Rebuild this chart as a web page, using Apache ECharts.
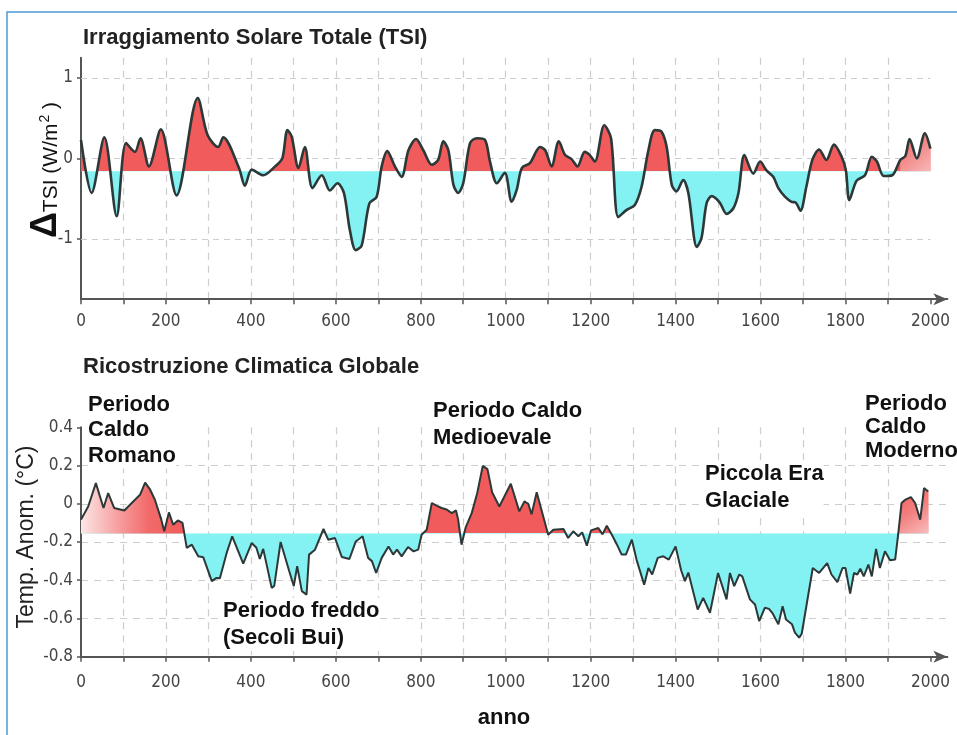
<!DOCTYPE html>
<html>
<head>
<meta charset="utf-8">
<script src="https://cdn.jsdelivr.net/npm/echarts@6/dist/echarts.min.js"></script>
<style>
  html, body { margin: 0; padding: 0; background: #ffffff; }
  #chart { width: 957px; height: 735px; }
</style>
</head>
<body>
<div id="chart"></div>
<script>
// Total solar irradiance anomaly, W/m^2
const tsiYears = [0, 25, 55, 84, 106, 127, 140, 160, 188, 225, 275, 298, 323, 335, 372, 386, 402, 429, 457, 474,
  486, 496, 512, 527, 545, 567, 586, 604, 619, 633, 647, 661, 679, 696, 708, 721, 739, 755, 771, 789,
  806, 826, 841, 853, 865, 877, 888, 900, 916, 932, 951, 963, 979, 998, 1014, 1026, 1038, 1057, 1081, 1093,
  1108, 1125, 1140, 1155, 1169, 1186, 1198, 1210, 1232, 1248, 1265, 1285, 1304, 1320, 1336, 1351, 1367, 1379, 1391, 1402,
  1418, 1430, 1450, 1461, 1473, 1485, 1504, 1520, 1536, 1548, 1562, 1583, 1599, 1614, 1630, 1642, 1658, 1673, 1683, 1694,
  1708, 1722, 1738, 1755, 1773, 1791, 1801, 1809, 1826, 1846, 1862, 1874, 1890, 1910, 1929, 1941, 1951, 1968, 1987, 2000];
const tsiValues = [0.23, -0.43, 0.26, -0.72, 0.19, 0.08, 0.25, -0.10, 0.36, -0.46, 0.75, 0.29, 0.14, 0.26, -0.12, -0.34, -0.14, -0.21, -0.10, 0.00,
  0.35, 0.27, -0.12, 0.14, -0.37, -0.21, -0.40, -0.31, -0.43, -0.89, -1.14, -1.08, -0.56, -0.48, -0.10, 0.09, -0.10, -0.23, 0.10, 0.24,
  0.10, -0.08, -0.02, 0.21, 0.10, -0.33, -0.43, -0.31, 0.19, 0.25, 0.23, -0.04, -0.31, -0.18, -0.54, -0.39, -0.12, -0.06, 0.14, 0.10,
  -0.10, 0.21, 0.04, -0.01, -0.10, 0.08, 0.04, -0.04, 0.41, 0.25, -0.73, -0.64, -0.58, -0.35, 0.10, 0.35, 0.33, 0.14, -0.33, -0.41,
  -0.27, -0.43, -1.10, -0.99, -0.56, -0.47, -0.55, -0.69, -0.62, -0.43, 0.04, -0.19, -0.04, -0.15, -0.23, -0.37, -0.48, -0.54, -0.55, -0.65,
  -0.35, -0.02, 0.11, -0.02, 0.17, 0.02, -0.15, -0.52, -0.28, -0.21, 0.02, -0.04, -0.22, -0.21, -0.02, 0.03, 0.24, 0.00, 0.31, 0.12];

// Global climate reconstruction, temperature anomaly in °C
const tempYears = [0, 17, 35, 53, 64, 78, 102, 123, 139, 151, 162, 174, 188, 196, 207, 217, 228, 239, 249, 261,
  276, 288, 308, 319, 327, 343, 356, 382, 402, 413, 421, 429, 449, 455, 470, 490, 501, 509, 520, 531,
  537, 551, 571, 582, 598, 614, 632, 647, 663, 676, 685, 695, 708, 724, 735, 744, 755, 770, 783, 794,
  802, 814, 826, 837, 849, 861, 873, 883, 888, 896, 906, 920, 933, 946, 957, 968, 985, 1012, 1032, 1044,
  1053, 1061, 1073, 1100, 1112, 1136, 1147, 1159, 1171, 1180, 1191, 1201, 1218, 1228, 1238, 1250, 1262, 1273, 1283, 1297,
  1308, 1326, 1336, 1345, 1358, 1371, 1384, 1400, 1413, 1422, 1430, 1452, 1465, 1481, 1500, 1520, 1528, 1538, 1550, 1557,
  1575, 1587, 1597, 1610, 1620, 1629, 1642, 1652, 1660, 1674, 1681, 1691, 1697, 1723, 1738, 1757, 1767, 1781, 1793, 1800,
  1811, 1820, 1828, 1835, 1843, 1854, 1862, 1872, 1881, 1893, 1905, 1917, 1924, 1932, 1940, 1954, 1964, 1976, 1985, 1995];
const tempValues = [-0.083, -0.014, 0.108, -0.022, 0.056, -0.022, -0.035, 0.012, 0.047, 0.111, 0.077, 0.021, -0.075, -0.144, -0.045, -0.11, -0.087, -0.10, -0.231, -0.214,
  -0.275, -0.28, -0.405, -0.388, -0.39, -0.257, -0.17, -0.313, -0.205, -0.23, -0.289, -0.236, -0.44, -0.43, -0.20, -0.35, -0.43, -0.327, -0.457, -0.475,
  -0.266, -0.24, -0.132, -0.188, -0.179, -0.278, -0.289, -0.197, -0.17, -0.283, -0.30, -0.362, -0.283, -0.223, -0.266, -0.24, -0.275, -0.226, -0.249, -0.24,
  -0.162, -0.136, 0.004, -0.01, -0.022, -0.03, -0.049, -0.035, -0.083, -0.214, -0.122, -0.049, 0.056, 0.198, 0.181, 0.06, -0.014, 0.105, -0.04, 0.012,
  0.0, -0.055, 0.06, -0.162, -0.136, -0.132, -0.179, -0.144, -0.17, -0.15, -0.219, -0.139, -0.127, -0.16, -0.115, -0.162, -0.214, -0.266, -0.266, -0.188,
  -0.292, -0.423, -0.336, -0.37, -0.283, -0.275, -0.292, -0.223, -0.348, -0.405, -0.36, -0.553, -0.492, -0.57, -0.362, -0.50, -0.362, -0.431, -0.37, -0.38,
  -0.50, -0.527, -0.614, -0.544, -0.55, -0.575, -0.631, -0.536, -0.605, -0.63, -0.674, -0.70, -0.68, -0.336, -0.362, -0.31, -0.37, -0.41, -0.336, -0.336,
  -0.47, -0.362, -0.37, -0.34, -0.38, -0.318, -0.38, -0.236, -0.336, -0.249, -0.296, -0.292, -0.162, 0.004, 0.02, 0.035, 0.004, -0.083, 0.082, 0.064];

// Reference levels that split warm (red) from cold (cyan) shading
const tsiBaseline = -0.16;
const tempBaseline = -0.155;

// Axis ticks and labels
const yearTicks = [0, 100, 200, 300, 400, 500, 600, 700, 800, 900, 1000, 1100, 1200, 1300, 1400, 1500, 1600, 1700, 1800, 1900, 2000];
const yearLabels = [0, 200, 400, 600, 800, 1000, 1200, 1400, 1600, 1800, 2000];
const tsiTicks = [-1, 0, 1];
const tempTicks = [-0.8, -0.6, -0.4, -0.2, 0, 0.2, 0.4];

const pairs = (xs, ys) => xs.map((x, i) => [x, ys[i]]);
const segment = (xs, ys, from, to) => pairs(xs, ys).filter(p => p[0] >= from && p[0] <= to);

const tsiData = pairs(tsiYears, tsiValues);
const tempData = pairs(tempYears, tempValues);

const WARM = '#f25b5b';
const COLD = '#84f1f3';
const CURVE = '#2d3838';
const AXIS = '#555555';
const GRID = '#cdcdcd';
const tickFont = "'Liberation Sans Narrow', 'DejaVu Sans Condensed', 'Liberation Sans', sans-serif";
const textFont = "'Liberation Sans', Arial, sans-serif";

function yearAxis(gridIndex, margin) {
  return {
    type: 'value', gridIndex, min: 0, max: 2040, interval: 100,
    axisLine: { show: true, onZero: false, symbol: ['none', 'arrow'], symbolSize: [9, 14],
      lineStyle: { color: AXIS, width: 2 } },
    axisTick: { show: true, customValues: yearTicks, length: 5, lineStyle: { color: AXIS, width: 1.5 } },
    axisLabel: { customValues: yearLabels, margin, fontSize: 17, color: '#444', fontFamily: tickFont,
      formatter: v => String(v) },
    splitLine: { show: true, showMinLine: false, showMaxLine: false,
      lineStyle: { color: GRID, width: 1.2, type: [7, 6] } }
  };
}

function fadeGradient(stops, x2, y2) {
  return new echarts.graphic.LinearGradient(0, 0, x2, y2,
    stops.map((c, i) => ({ offset: i / (stops.length - 1), color: c })));
}

// Period captions placed on a white box so the grid does not run through them
function caption(x, y, text, lineHeight) {
  return { type: 'text', x, y, silent: true, z: 100,
    style: { text, font: 'bold 22px ' + textFont, lineHeight, fill: '#111', backgroundColor: '#ffffff' } };
}

const chart = echarts.init(document.getElementById('chart'), null, { renderer: 'canvas' });

chart.setOption({
  animation: false,
  backgroundColor: '#ffffff',
  title: [
    { text: 'Irraggiamento Solare Totale (TSI)', left: 83, top: 27, padding: 0,
      textStyle: { fontSize: 22, fontWeight: 'bold', color: '#222', fontFamily: textFont } },
    { text: 'Ricostruzione Climatica Globale', left: 83, top: 356, padding: 0,
      textStyle: { fontSize: 22, fontWeight: 'bold', color: '#222', fontFamily: textFont } }
  ],
  grid: [
    { left: 81, right: 9.6, top: 57.7, height: 241.5 },
    { left: 81, right: 9.6, top: 427.3, height: 229.4 }
  ],
  xAxis: [yearAxis(0, 14), yearAxis(1, 17)],
  yAxis: [
    {
      type: 'value', gridIndex: 0, min: -1.75, max: 1.25,
      axisLine: { show: true, onZero: false, lineStyle: { color: AXIS, width: 2 } },
      axisTick: { show: true, customValues: tsiTicks, length: 4, lineStyle: { color: AXIS, width: 1.5 } },
      axisLabel: { customValues: tsiTicks, margin: 8, fontSize: 17, color: '#444', fontFamily: tickFont },
      splitLine: { show: false }
    },
    {
      type: 'value', gridIndex: 1, min: -0.8, max: 0.4, interval: 0.2,
      axisLine: { show: true, onZero: false, lineStyle: { color: AXIS, width: 2 } },
      axisTick: { show: true, customValues: tempTicks, length: 4, lineStyle: { color: AXIS, width: 1.5 } },
      axisLabel: { customValues: tempTicks, margin: 8, fontSize: 17, color: '#444', fontFamily: tickFont,
        formatter: v => String(Math.round(v * 10) / 10) },
      splitLine: { show: true, showMinLine: false, showMaxLine: false,
        lineStyle: { color: GRID, width: 1.2, type: [7, 6] } }
    }
  ],
  visualMap: [
    { type: 'piecewise', show: false, seriesIndex: 0, dimension: 1,
      pieces: [{ gte: -3, lt: tsiBaseline, color: COLD }, { gte: tsiBaseline, lte: 3, color: WARM }] },
    { type: 'piecewise', show: false, seriesIndex: 3, dimension: 1,
      pieces: [{ gte: -2, lt: tempBaseline, color: COLD }, { gte: tempBaseline, lte: 2, color: WARM }] }
  ],
  series: [
    // --- TSI panel ---
    { type: 'line', xAxisIndex: 0, yAxisIndex: 0, data: tsiData, smooth: 0.3, symbol: 'none', silent: true, z: 2,
      lineStyle: { width: 0 }, areaStyle: { origin: tsiBaseline, opacity: 1 } },
    { type: 'line', xAxisIndex: 0, yAxisIndex: 0, data: segment(tsiYears, tsiValues, 1929, 2000), smooth: 0.3,
      symbol: 'none', silent: true, z: 3, lineStyle: { width: 0 },
      areaStyle: { origin: tsiBaseline, opacity: 1, color: fadeGradient(['#f36a6a', '#f48a8a', '#f7b9b9'], 1, 1) } },
    { type: 'line', xAxisIndex: 0, yAxisIndex: 0, data: tsiData, smooth: 0.3, symbol: 'none', silent: true, z: 4,
      lineStyle: { color: CURVE, width: 2.6 },
      markLine: { silent: true, symbol: 'none', z: 1, label: { show: false },
        lineStyle: { color: GRID, width: 1.2, type: [6, 5] },
        data: tsiTicks.map(v => [{ coord: [0, v] }, { coord: [2000, v] }]) } },
    // --- temperature panel ---
    { type: 'line', xAxisIndex: 1, yAxisIndex: 1, data: tempData, symbol: 'none', silent: true, z: 2,
      lineStyle: { width: 0 }, areaStyle: { origin: tempBaseline, opacity: 1 } },
    { type: 'line', xAxisIndex: 1, yAxisIndex: 1, data: segment(tempYears, tempValues, 0, 239),
      symbol: 'none', silent: true, z: 3, lineStyle: { width: 0 },
      areaStyle: { origin: tempBaseline, opacity: 1, color: fadeGradient(['#fde6e6', '#f7a5a5', '#f26a6a', '#f25b5b'], 1, 0) } },
    { type: 'line', xAxisIndex: 1, yAxisIndex: 1, data: segment(tempYears, tempValues, 1924, 1995),
      symbol: 'none', silent: true, z: 3, lineStyle: { width: 0 },
      areaStyle: { origin: tempBaseline, opacity: 1, color: fadeGradient(['#f25b5b', '#f38080', '#f8c0c0'], 1, 1) } },
    { type: 'line', xAxisIndex: 1, yAxisIndex: 1, data: tempData, symbol: 'none', silent: true, z: 4,
      lineStyle: { color: CURVE, width: 2 } }
  ],
  graphic: [
    { type: 'rect', silent: true, z: -10, shape: { x: 7, y: 12, width: 960, height: 740 },
      style: { fill: 'none', stroke: '#4d9bd6', lineWidth: 1.5 } },
    { type: 'text', x: 46, y: 170, rotation: Math.PI / 2, silent: true,
      style: { text: '{d|Δ}{t|TSI (W/m}{s|2}{t| )}', textAlign: 'center', textVerticalAlign: 'middle', verticalAlign: 'middle',
        rich: {
          d: { fontSize: 36, fontWeight: 'bold', fill: '#111', color: '#111', fontFamily: textFont, verticalAlign: 'bottom' },
          t: { fontSize: 21, fill: '#111', color: '#111', fontFamily: textFont, verticalAlign: 'bottom', padding: [0, 0, 2, 0] },
          s: { fontSize: 14, fill: '#111', color: '#111', fontFamily: textFont, verticalAlign: 'bottom', padding: [0, 0, 12, 1] }
        } } },
    { type: 'text', x: 27, y: 537, rotation: Math.PI / 2, silent: true,
      style: { text: 'Temp. Anom. (°C)', font: '23px ' + textFont, fill: '#222',
        textAlign: 'center', textVerticalAlign: 'middle', verticalAlign: 'middle' } },
    { type: 'text', x: 504, y: 718, silent: true,
      style: { text: 'anno', font: 'bold 22px ' + textFont, fill: '#111',
        textAlign: 'center', textVerticalAlign: 'middle', verticalAlign: 'middle' } },
    caption(88, 392, 'Periodo\nCaldo\nRomano', 25.5),
    caption(433, 398, 'Periodo Caldo\nMedioevale', 26.5),
    caption(223, 598, 'Periodo freddo\n(Secoli Bui)', 26.5),
    caption(705, 461, 'Piccola Era\nGlaciale', 26.5),
    caption(865, 392, 'Periodo\nCaldo\nModerno', 23.5)
  ]
});
</script>
</body>
</html>
